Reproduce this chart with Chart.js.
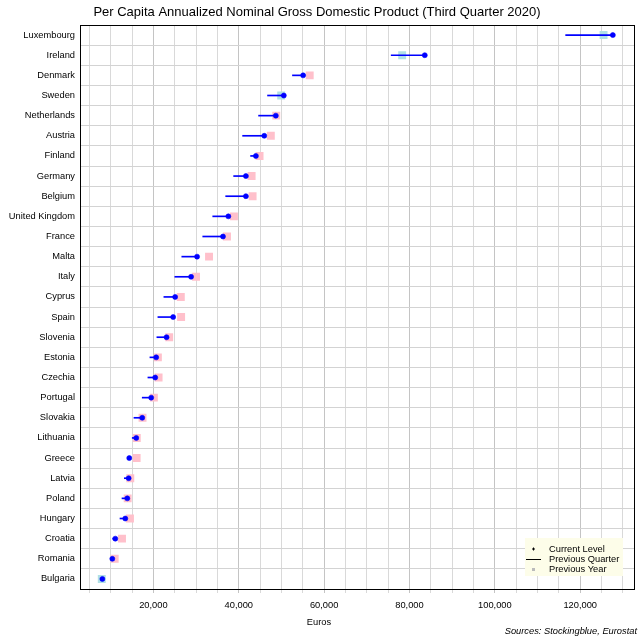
<!DOCTYPE html>
<html>
<head>
<meta charset="utf-8">
<script src="https://cdn.jsdelivr.net/npm/chart.js@4/dist/chart.umd.min.js"></script>
<style>
  html, body { margin: 0; padding: 0; background: #fff; }
  #wrap { width: 640px; height: 640px; }
</style>
</head>
<body>
<div id="wrap"><canvas id="chart"></canvas></div>
<script>
/* Per capita GDP, Q3 2020 — dot plot */

const countries = ['Luxembourg', 'Ireland', 'Denmark', 'Sweden', 'Netherlands', 'Austria', 'Finland',
  'Germany', 'Belgium', 'United Kingdom', 'France', 'Malta', 'Italy', 'Cyprus', 'Spain', 'Slovenia',
  'Estonia', 'Czechia', 'Portugal', 'Slovakia', 'Lithuania', 'Greece', 'Latvia', 'Poland', 'Hungary',
  'Croatia', 'Romania', 'Bulgaria'];

const currentLevel = [127640, 83580, 55080, 50550, 48680, 45970, 44010, 41670, 41670, 37560, 36300,
  30230, 28830, 25090, 24620, 23080, 20650, 20420, 19480, 17380, 15980, 14340, 14200, 13880, 13410,
  11070, 10370, 8040];

const previousQuarter = [116590, 75710, 52580, 46740, 44640, 40900, 42770, 38800, 36930, 33900, 31560,
  26650, 25020, 22450, 21050, 20810, 19180, 18710, 17380, 15440, 15040, 13900, 13180, 12640, 12170,
  10470, 10000, 7800];

const previousYear = [125470, 78280, 56620, 49940, 48780, 47510, 44870, 43010, 43240, 38870, 37240,
  33030, 29990, 26420, 26490, 23690, 21050, 21210, 20110, 17450, 16100, 16070, 14580, 13970, 14510,
  12640, 10930, 7900];

// grid every 5,000; labels only on multiples of 20,000
const xTicks = [5000, 10000, 15000, 20000, 25000, 30000, 35000, 40000, 45000, 50000, 55000, 60000,
  65000, 70000, 75000, 80000, 85000, 90000, 95000, 100000, 105000, 110000, 115000, 120000, 125000, 130000];

const legendLabels = ['Current Level', 'Previous Quarter', 'Previous Year'];

const FONT = "'Liberation Sans', Arial, sans-serif";
const SMALL = 9.3;

// light blue when a year ago was lower, pink when higher
const yearColors = previousYear.map((v, i) => v < currentLevel[i] ? '#b0e0e6' : '#ffc0cb');

const frameAndNotes = {
  id: 'frameAndNotes',
  afterDraw(chart) {
    const { ctx, chartArea: a } = chart;
    ctx.save();
    ctx.strokeStyle = '#000';
    ctx.lineWidth = 1;
    ctx.strokeRect(Math.round(a.left) + 0.5, Math.round(a.top) + 0.5,
      Math.round(a.right - a.left), Math.round(a.bottom - a.top));

    ctx.fillStyle = '#000';
    ctx.font = `${SMALL}px ${FONT}`;
    ctx.textAlign = 'center';
    ctx.textBaseline = 'middle';
    ctx.fillText('Euros', 319, 622);

    ctx.font = `italic ${SMALL}px ${FONT}`;
    ctx.textAlign = 'right';
    ctx.fillText('Sources: Stockingblue, Eurostat', 637, 631);

    // legend box
    const lx = 525, ly = 538;
    ctx.fillStyle = '#fdfde9';
    ctx.fillRect(lx, ly, 98, 38);
    ctx.strokeStyle = '#000';
    ctx.beginPath();
    ctx.moveTo(lx + 7, ly + 11); ctx.lineTo(lx + 10, ly + 11);
    ctx.moveTo(lx + 8.5, ly + 9.5); ctx.lineTo(lx + 8.5, ly + 12.5);
    ctx.moveTo(lx + 1, ly + 21.5); ctx.lineTo(lx + 16, ly + 21.5);
    ctx.stroke();
    ctx.fillStyle = '#bbbbbb';
    ctx.fillRect(lx + 7, ly + 30, 3, 3);

    ctx.fillStyle = '#000';
    ctx.font = `${SMALL}px ${FONT}`;
    ctx.textAlign = 'left';
    legendLabels.forEach((t, i) => ctx.fillText(t, lx + 24, ly + 11 + i * 10.3));
    ctx.restore();
  }
};

new Chart(document.getElementById('chart'), {
  type: 'bar',
  data: {
    labels: countries,
    datasets: [
      {
        type: 'scatter',
        label: legendLabels[0],
        data: countries.map((c, i) => ({ x: currentLevel[i], y: c })),
        pointStyle: 'circle',
        pointRadius: 2.5,
        pointBorderWidth: 0.6,
        backgroundColor: '#0000ff',
        borderColor: '#0000ff',
        order: 0
      },
      {
        label: legendLabels[1],
        indexAxis: 'y',
        data: countries.map((c, i) => [previousQuarter[i], currentLevel[i]]),
        backgroundColor: '#0000ff',
        borderWidth: 0,
        barThickness: 1,
        order: 1
      },
      {
        type: 'scatter',
        label: legendLabels[2],
        data: countries.map((c, i) => ({ x: previousYear[i], y: c })),
        pointStyle: 'rect',
        pointRadius: 5.6,
        pointBorderWidth: 0,
        backgroundColor: yearColors,
        borderColor: yearColors,
        order: 2
      }
    ]
  },
  options: {
    responsive: true,
    maintainAspectRatio: false,
    animation: false,
    events: [],
    layout: { padding: { left: 0, right: 6, top: 0, bottom: 0 } },
    plugins: {
      legend: { display: false },
      tooltip: { enabled: false },
      title: {
        display: true,
        text: 'Per Capita Annualized Nominal Gross Domestic Product (Third Quarter 2020)',
        color: '#000',
        font: { family: FONT, size: 13, weight: 'normal' },
        padding: { top: 5, bottom: 4.4 }
      }
    },
    scales: {
      x: {
        type: 'linear',
        position: 'bottom',
        offset: false,
        bounds: 'data',
        min: 2800,
        max: 132600,
        afterFit: s => { s.height = 51; },
        afterBuildTicks: s => { s.ticks = xTicks.map(v => ({ value: v })); },
        grid: {
          offset: false,
          color: ctx => ctx.tick && ctx.tick.value % 20000 === 0 ? '#c4c4c4' : '#d9d9d9',
          lineWidth: 1,
          drawTicks: true,
          tickLength: 4
        },
        border: { display: false },
        ticks: {
          autoSkip: false,
          maxRotation: 0,
          padding: 7,
          color: '#000',
          font: { family: FONT, size: SMALL },
          callback: v => v % 20000 === 0 ? v.toLocaleString('en-US') : ''
        }
      },
      y: {
        type: 'category',
        labels: countries,
        offset: true,
        afterFit: s => { s.width = 80; },
        grid: { offset: true, color: '#d3d3d3', lineWidth: 1, drawTicks: false },
        border: { display: false },
        ticks: {
          padding: 5,
          autoSkip: false,
          color: '#000',
          font: { family: FONT, size: SMALL }
        }
      }
    }
  },
  plugins: [frameAndNotes]
});
</script>
</body>
</html>
